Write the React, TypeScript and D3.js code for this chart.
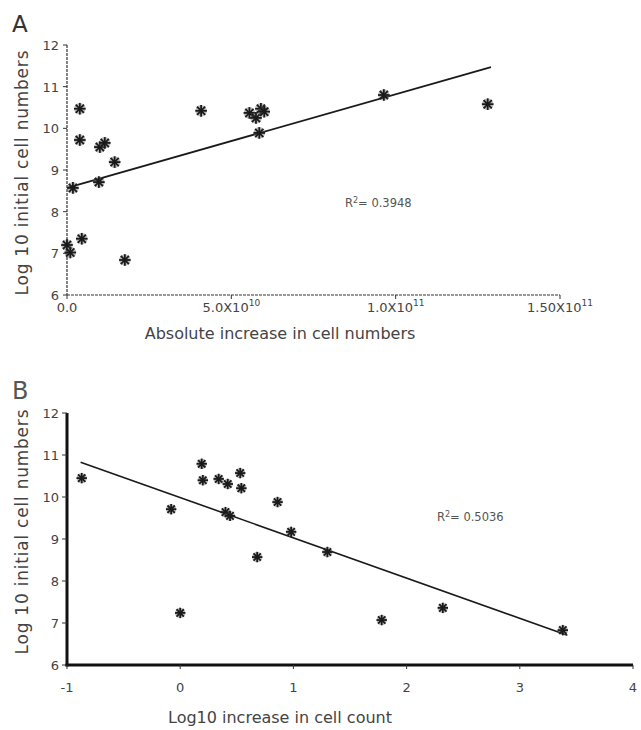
import React from "react";
import * as d3 from "d3";

const yTicks = [6, 7, 8, 9, 10, 11, 12];

const xTicksA = [0, 5e10, 1e11, 1.5e11];
const xTickBaseA = ["0.0", "5.0X10", "1.0X10", "1.50X10"];
const xTickSupA = ["", "10", "11", "11"];

const xTicksB = [-1, 0, 1, 2, 3, 4];

const absIncrease = [
  0.39e10, 0.39e10, 1.0e10, 1.15e10, 1.45e10, 0.18e10, 0.97e10, 0.0, 0.1e10,
  0.45e10, 1.76e10, 4.08e10, 5.55e10, 5.75e10, 5.9e10, 6.0e10, 5.85e10,
  9.64e10, 1.28e11,
];
const initialA = [
  10.47, 9.72, 9.55, 9.65, 9.19, 8.57, 8.71, 7.2, 7.02, 7.35, 6.84, 10.42,
  10.37, 10.25, 10.47, 10.4, 9.89, 10.8, 10.58,
];

const logIncrease = [
  -0.87, -0.08, 0.0, 0.19, 0.2, 0.34, 0.42, 0.53, 0.54, 0.4, 0.44, 0.86, 0.68,
  0.98, 1.3, 1.78, 2.32, 3.38,
];
const initialB = [
  10.45, 9.71, 7.24, 10.79, 10.4, 10.43, 10.31, 10.57, 10.21, 9.64, 9.55,
  9.88, 8.57, 9.17, 8.69, 7.07, 7.36, 6.83,
];

const fitAx = [0, 1.29e11];
const fitAy = [8.57, 11.47];
const fitBx = [-0.88, 3.42];
const fitBy = [10.83, 6.71];

const r2A = "0.3948";
const r2B = "0.5036";

const FONT = "'DejaVu Sans', Verdana, sans-serif";

function Marker({ x, y, s }: { x: number; y: number; s: number }) {
  const arms = [0, 45, 90, 135];
  return (
    <g transform={`translate(${x},${y})`}>
      <circle r={s} fill="#666" opacity={0.45} />
      {arms.map((a) => {
        const r = (a * Math.PI) / 180;
        return (
          <line
            key={a}
            x1={-Math.cos(r) * s}
            y1={-Math.sin(r) * s}
            x2={Math.cos(r) * s}
            y2={Math.sin(r) * s}
            stroke="#1a1a1a"
            strokeWidth={1.8}
          />
        );
      })}
    </g>
  );
}

export default function App() {
  const xA = d3.scaleLinear().domain([0, 1.5e11]).range([67, 560]);
  const yA = d3.scaleLinear().domain([6, 12]).range([295, 45]);
  const xB = d3.scaleLinear().domain([-1, 4]).range([67, 633]);
  const yB = d3.scaleLinear().domain([6, 12]).range([665, 413]);

  const lineA = d3
    .line<number>()
    .x((_, i) => xA(fitAx[i]))
    .y((d) => yA(d));
  const lineB = d3
    .line<number>()
    .x((_, i) => xB(fitBx[i]))
    .y((d) => yB(d));

  const textCol = "#444";

  return (
    <svg
      width={641}
      height={730}
      style={{ position: "absolute", left: 0, top: 0, background: "#fff" }}
      fontFamily={FONT}
    >
      {/* Panel A */}
      <text x={12} y={32} fontSize={23} fill="#333">A</text>
      <line x1={67} x2={67} y1={yA(12)} y2={yA(6)} stroke="#333" strokeWidth={1.2} strokeDasharray="3,1" />
      {yTicks.map((t) => (
        <g key={"ya" + t}>
          <line x1={63} x2={67} y1={yA(t)} y2={yA(t)} stroke="#333" strokeWidth={1} />
          <text x={59} y={yA(t) + 5} fontSize={13} textAnchor="end" fill={textCol}>{t}</text>
        </g>
      ))}
      <line x1={67} x2={560} y1={295} y2={295} stroke="#333" strokeWidth={1.2} strokeDasharray="3,1" />
      {xTicksA.map((t, i) => (
        <g key={"xa" + i}>
          <line x1={xA(t)} x2={xA(t)} y1={295} y2={299} stroke="#333" strokeWidth={1} />
          <text x={xA(t)} y={312} fontSize={13} textAnchor="middle" fill={textCol}>
            {xTickBaseA[i]}
            {xTickSupA[i] && (
              <tspan dy={-6} fontSize={9}>{xTickSupA[i]}</tspan>
            )}
          </text>
        </g>
      ))}
      <text x={280} y={339} fontSize={16} textAnchor="middle" fill={textCol}>
        Absolute increase in cell numbers
      </text>
      <text
        transform={`translate(28,173) rotate(-90)`}
        fontSize={17}
        textAnchor="middle"
        fill={textCol}
        textLength={245}
        lengthAdjust="spacing"
      >
        Log 10 initial cell numbers
      </text>
      <path d={lineA(fitAy) || ""} fill="none" stroke="#1a1a1a" strokeWidth={1.8} />
      {absIncrease.map((v, i) => (
        <Marker key={"pa" + i} x={xA(v)} y={yA(initialA[i])} s={5.8} />
      ))}
      <text x={345} y={207} fontSize={11.5} fill="#555">
        R<tspan dy={-4} fontSize={8}>2</tspan>
        <tspan dy={4}>= {r2A}</tspan>
      </text>

      {/* Panel B */}
      <text x={12} y={399} fontSize={24} fill="#555">B</text>
      <line x1={67} x2={67} y1={yB(12)} y2={yB(6) + 1.5} stroke="#111" strokeWidth={3} />
      {yTicks.map((t) => (
        <g key={"yb" + t}>
          <line x1={62} x2={67} y1={yB(t)} y2={yB(t)} stroke="#333" strokeWidth={1} />
          <text x={59} y={yB(t) + 5} fontSize={13} textAnchor="end" fill={textCol}>{t}</text>
        </g>
      ))}
      <line x1={65.5} x2={633} y1={665} y2={665} stroke="#111" strokeWidth={3} />
      {xTicksB.map((t) => (
        <g key={"xb" + t}>
          <line x1={xB(t)} x2={xB(t)} y1={665} y2={669} stroke="#333" strokeWidth={1} />
          <text x={xB(t)} y={692} fontSize={13} textAnchor="middle" fill={textCol}>{t}</text>
        </g>
      ))}
      <text x={280} y={723} fontSize={16} textAnchor="middle" fill={textCol}>
        Log10 increase in cell count
      </text>
      <text
        transform={`translate(28,532) rotate(-90)`}
        fontSize={17}
        textAnchor="middle"
        fill={textCol}
        textLength={245}
        lengthAdjust="spacing"
      >
        Log 10 initial cell numbers
      </text>
      <path d={lineB(fitBy) || ""} fill="none" stroke="#1a1a1a" strokeWidth={1.6} />
      {logIncrease.map((v, i) => (
        <Marker key={"pb" + i} x={xB(v)} y={yB(initialB[i])} s={5.2} />
      ))}
      <text x={437} y={521} fontSize={11.5} fill="#555">
        R<tspan dy={-4} fontSize={8}>2</tspan>
        <tspan dy={4}>= {r2B}</tspan>
      </text>
    </svg>
  );
}
